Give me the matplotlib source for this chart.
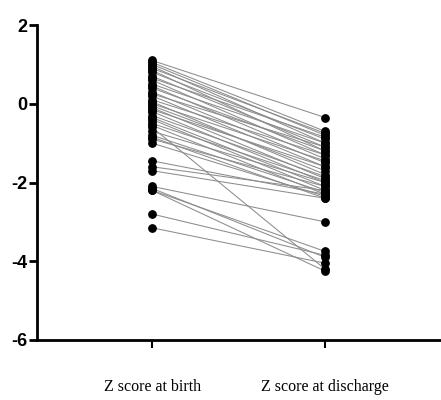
import matplotlib
matplotlib.use('Agg')
import matplotlib.pyplot as plt

plt.rcParams['axes.unicode_minus'] = False

labels = ['Z score at birth', 'Z score at discharge']

birth = [1.1, 1.05, 1.0, 0.95, 0.9, 0.85, 0.8, 0.7, 0.65, 0.6, 0.5, 0.45, 0.4, 0.3,
         0.25, 0.2, 0.1, 0.05, 0.0, -0.05, -0.1, -0.15, -0.2, -0.3, -0.35, -0.4,
         -0.5, -0.55, -0.6, -0.7, -0.8, -0.85, -0.9, -1.0, -1.45, -1.6, -1.7,
         -2.1, -2.2, -2.15, -2.2, -2.8, -3.15]
discharge = [-0.35, -0.7, -0.8, -1.0, -0.75, -1.2, -0.9, -1.1, -0.85, -1.3, -1.0, -1.4,
             -1.2, -1.5, -1.1, -1.6, -1.3, -1.8, -1.45, -1.7, -1.9, -1.6, -2.0, -1.85,
             -2.1, -2.2, -1.95, -2.3, -4.2, -2.0, -2.25, -2.4, -2.1, -2.35, -2.3, -2.2,
             -2.4, -3.0, -3.75, -3.9, -4.25, -3.85, -4.05]

fig = plt.figure(figsize=(4.41, 4.0), dpi=100)
ax = fig.add_axes([0.084, 0.15, 0.916, 0.7875])

for b, d in zip(birth, discharge):
    ax.plot([0, 1], [b, d], color='#8c8c8c', lw=0.75, zorder=1)
ax.scatter([0] * len(birth), birth, s=28, color='black', zorder=3)
ax.scatter([1] * len(discharge), discharge, s=28, color='black', zorder=3)

ax.set_xlim(-0.665, 1.67)
ax.set_ylim(-6, 2)
ax.set_yticks([-6, -4, -2, 0, 2])
ax.set_xticks([0, 1])
ax.set_xticklabels(labels, family='Liberation Serif', fontsize=11.5)
for t in ax.get_yticklabels():
    t.set_fontweight('bold')
    t.set_fontsize(13)
    t.set_family('Liberation Sans')

ax.spines['top'].set_visible(False)
ax.spines['right'].set_visible(False)
ax.spines['left'].set_linewidth(2)
ax.spines['bottom'].set_linewidth(2)
ax.tick_params(axis='y', length=6, width=2, pad=1)
ax.tick_params(axis='x', length=6, width=1.5, pad=22)

fig.savefig('out.png', dpi=100)
